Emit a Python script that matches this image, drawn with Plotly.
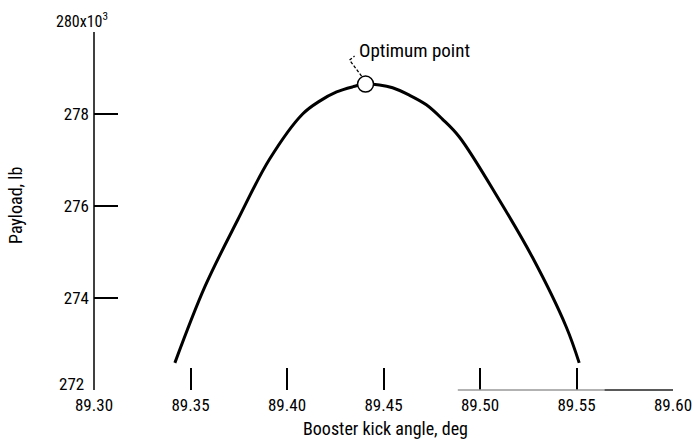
import plotly.graph_objects as go

# Data
kick_angle = [89.3419, 89.3574, 89.3745, 89.3910, 89.4081, 89.4169, 89.4257, 89.4340,
              89.4407, 89.4479, 89.4547, 89.4634, 89.4722, 89.4805, 89.4893, 89.5100,
              89.5271, 89.5447, 89.5514]
payload = [272.59, 274.24, 275.70, 277.02, 278.00, 278.28, 278.48, 278.59,
           278.65, 278.63, 278.57, 278.41, 278.20, 277.89, 277.50, 276.13,
           274.89, 273.37, 272.59]
optimum_angle = [89.4407]
optimum_payload = [278.65]

x_range = [89.30, 89.60]
y_range = [272, 280]
x_tick_vals = [89.30, 89.35, 89.40, 89.45, 89.50, 89.55, 89.60]
x_tick_text = ["89.30", "89.35", "89.40", "89.45", "89.50", "89.55", "89.60"]
y_tick_vals = [274, 276, 278]
y_tick_text = ["274", "276", "278"]
y_minor_ticks = [274, 276, 278]

FONT = "Roboto Condensed, Liberation Sans Narrow, Roboto, sans-serif"
TXT = dict(family=FONT, size=17, color="black")

fig = go.Figure()
fig.add_trace(go.Scatter(x=kick_angle, y=payload, mode="lines",
                         line=dict(color="black", width=3, shape="spline", smoothing=1.0),
                         hoverinfo="skip", showlegend=False))
fig.add_trace(go.Scatter(x=optimum_angle, y=optimum_payload, mode="markers",
                         marker=dict(size=16, color="white", line=dict(color="black", width=1.5)),
                         showlegend=False))

xspan = x_range[1] - x_range[0]
yspan = y_range[1] - y_range[0]
px_x = xspan / 579.0   # data units per pixel (x)
px_y = yspan / 368.0   # data units per pixel (y)
ox, oy = optimum_angle[0], optimum_payload[0]
path = (f"M {ox - 4*px_x} {oy + 8*px_y} L {ox - 16*px_x} {oy + 24*px_y} "
        f"L {ox - 11*px_x} {oy + 28*px_y}")
fig.add_shape(type="path", path=path, xref="x", yref="y",
              line=dict(color="black", width=1.3, dash="3px,2px"))

fig.add_annotation(x=ox, y=oy, xref="x", yref="y", text="Optimum point",
                   showarrow=False, xanchor="left", yanchor="middle",
                   xshift=-9, yshift=34, font=dict(family=FONT, size=19, color="black"))
fig.add_annotation(x=0, y=1, xref="paper", yref="paper", text="280x10<sup>3</sup>",
                   showarrow=False, xanchor="center", yanchor="middle",
                   xshift=-12, yshift=2, font=dict(family=FONT, size=16, color="black"))
fig.add_annotation(x=0, y=0, xref="paper", yref="paper", text="272",
                   showarrow=False, xanchor="right", yanchor="middle",
                   xshift=-8, yshift=6, font=TXT)
# axis titles
fig.add_annotation(x=0.5, y=0, xref="paper", yref="paper", text="Booster kick angle, deg",
                   showarrow=False, xanchor="center", yanchor="middle",
                   xshift=2, yshift=-38, font=dict(family=FONT, size=18, color="black"))
fig.add_annotation(x=0, y=0.5, xref="paper", yref="paper", text="Payload, lb",
                   showarrow=False, xanchor="center", yanchor="middle", textangle=-90,
                   xshift=-79, yshift=0, font=dict(family=FONT, size=18, color="black"))

# y axis line (stops just below 280)
fig.add_shape(type="line", xref="paper", yref="paper", x0=0, x1=0, y0=0,
              y1=(279.78 - y_range[0]) / yspan, line=dict(color="black", width=1.5))
# partial baseline
b0 = (89.4885 - x_range[0]) / xspan
b1 = (89.5645 - x_range[0]) / xspan
fig.add_shape(type="line", xref="paper", yref="paper", x0=b0, x1=b1, y0=0, y1=0,
              line=dict(color="#999999", width=1.5))
fig.add_shape(type="line", xref="paper", yref="paper", x0=b1, x1=1, y0=0, y1=0,
              line=dict(color="#222222", width=1.5))

fig.update_xaxes(range=x_range, tickmode="array", tickvals=x_tick_vals,
                 ticktext=x_tick_text, ticks="inside", ticklen=22, tickwidth=1.5,
                 tickcolor="black", showgrid=False, zeroline=False, showline=False,
                 ticklabelstandoff=3, automargin=False, tickfont=TXT)
fig.update_yaxes(range=y_range, tickmode="array", tickvals=y_tick_vals,
                 ticktext=y_tick_text, ticks="", showgrid=False, zeroline=False,
                 showline=False, ticklabelstandoff=4, automargin=False,
                 minor=dict(tickmode="array", tickvals=y_minor_ticks, ticks="inside",
                            ticklen=24, tickwidth=1.5, tickcolor="black"),
                 tickfont=TXT)

fig.update_layout(width=695, height=441, margin=dict(l=94, r=22, t=22, b=51),
                  plot_bgcolor="white", paper_bgcolor="white")
fig.write_html("out.html", config={"displayModeBar": False},
               post_script="document.body.style.margin='0px';document.body.style.overflow='hidden';")
